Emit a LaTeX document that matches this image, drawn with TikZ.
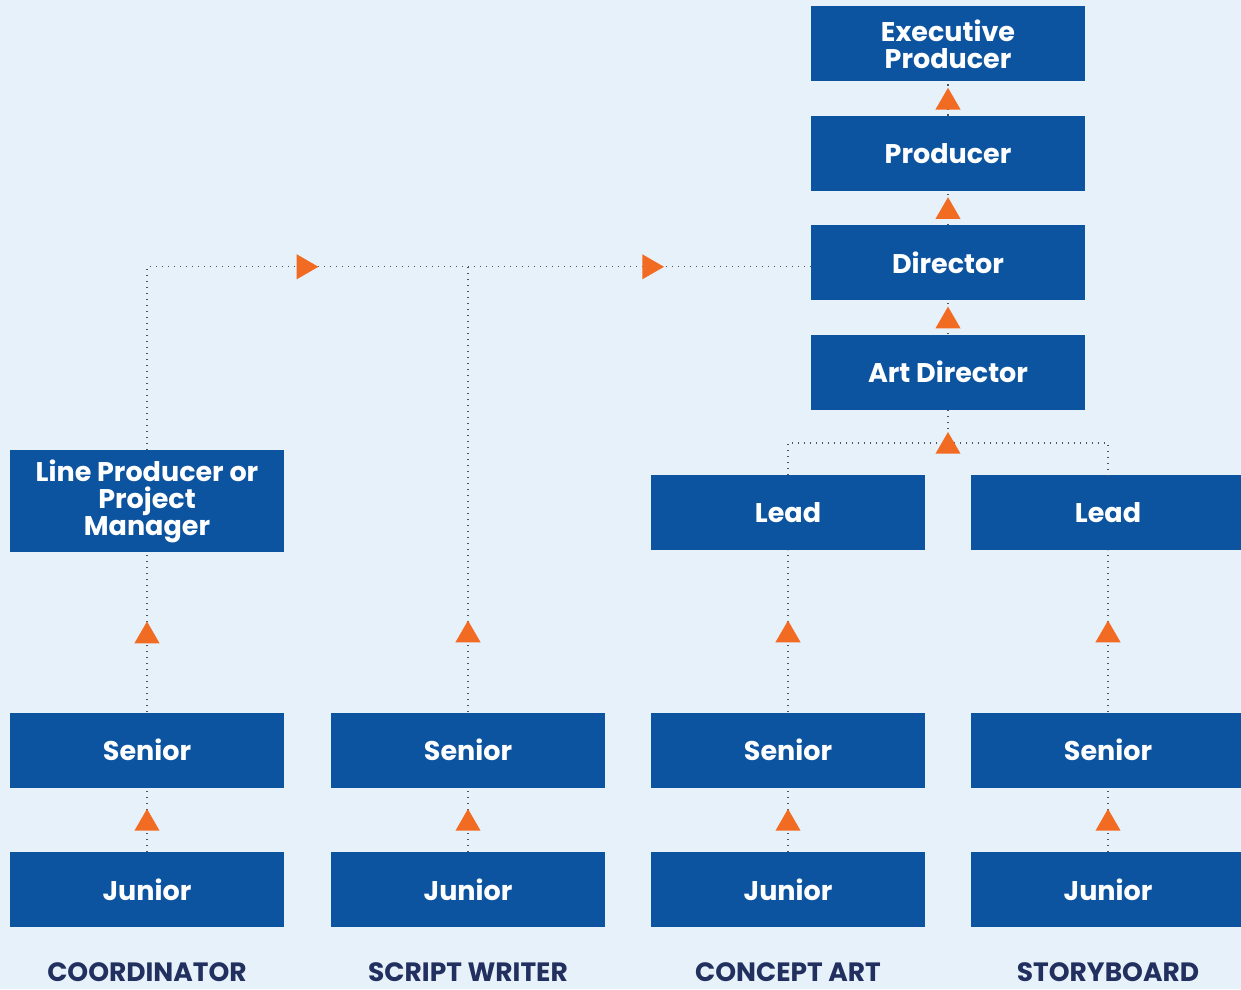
\documentclass[tikz,border=0pt]{standalone}
\usepackage{fontspec}
\setmainfont{Poppins}
\usetikzlibrary{shapes,arrows,positioning,calc}
\definecolor{bgblue}{HTML}{E7F1FA}
\definecolor{boxblue}{HTML}{0D54A0}
\definecolor{navy}{HTML}{22305F}
\definecolor{tipor}{HTML}{F26B22}
\definecolor{dotgray}{HTML}{50555C}
\tikzset{
block/.style = {fill=boxblue, rectangle, minimum height=75pt, minimum width=274pt, text=white, align=center, inner sep=2pt, font=\fontsize{27}{27}\selectfont\bfseries},
caption/.style = {text=navy, inner sep=0pt, font=\fontsize{26.5}{28}\selectfont\bfseries},
link/.style = {draw=dotgray, line width=1.3pt, dash pattern=on 1.3pt off 4.7pt},
tri/.style = {regular polygon, regular polygon sides=3, fill=tipor, inner sep=0pt, minimum size=29pt},
uptri/.style = {tri, yshift=-3.6pt},
rtri/.style = {tri, regular polygon rotate=-90, xshift=-3.6pt},
tmp/.style = {coordinate}
}
\begin{document}
\begin{tikzpicture}[x=1pt, y=1pt, node distance=34pt]
		\fill [bgblue] (0,0) rectangle (1241,989);
		\useasboundingbox (0,0) rectangle (1241,989);

		% main chain
		\node [block] (exec) at (948,945) {Executive\\Producer};
		\node [block, below=of exec] (prod) {Producer};
		\node [block, below=of prod] (dir) {Director};
		\node [block, below=of dir] (artdir) {Art Director};

		% juniors and seniors
		\node [block] (cojun) at (147,99.5) {Junior};
		\node [block] (swjun) at (468,99.5) {Junior};
		\node [block] (cajun) at (788,99.5) {Junior};
		\node [block] (sbjun) at (1108,99.5) {Junior};
		\node [block, above=64pt of cojun] (cosen) {Senior};
		\node [block, above=64pt of swjun] (swsen) {Senior};
		\node [block, above=64pt of cajun] (casen) {Senior};
		\node [block, above=64pt of sbjun] (sbsen) {Senior};

		\node [block, minimum height=102pt, above=160pt of cosen] (lineprod) {Line Producer or\\Project\\Manager};
		\node [block, above=162pt of casen] (calead) {Lead};
		\node [block, above=162pt of sbsen] (sblead) {Lead};

		% column names
		\node [caption, below=35pt of cojun] (coname) {COORDINATOR};
		\node [caption, below=35pt of swjun] (swname) {SCRIPT WRITER};
		\node [caption, below=35pt of cajun] (caname) {CONCEPT ART};
		\node [caption, below=35pt of sbjun] (sbname) {STORYBOARD};

		% links up the chain
		\draw [link] (prod) -- node [uptri] {} (exec);
		\draw [link] (dir) -- node [uptri] {} (prod);
		\draw [link] (artdir) -- node [uptri] {} (dir);

		\draw [link] (cojun) -- node [uptri] {} (cosen);
		\draw [link] (swjun) -- node [uptri] {} (swsen);
		\draw [link] (cajun) -- node [uptri] {} (casen);
		\draw [link] (sbjun) -- node [uptri] {} (sbsen);

		\draw [link] (cosen) -- node [uptri] {} (lineprod);
		\draw [link] (casen) -- node [uptri] {} (calead);
		\draw [link] (sbsen) -- node [uptri] {} (sblead);

		% leads to art director
		\coordinate [below=33pt of artdir.south] (split);
		\draw [link] (artdir) -- (split);
		\draw [link] (calead.north) |- (split) -| (sblead.north);
		\node [uptri] at (split) {};

		% line producer and script writer to director
		\coordinate (dirin) at ([yshift=-4pt]dir.west);
		\coordinate (corner) at (lineprod.north |- dirin);
		\coordinate (branch) at (swsen.north |- dirin);
		\draw [link] (lineprod.north) |- (dirin);
		\draw [link] (swsen.north) -- (branch);
		\node [uptri] at ($(swsen.north)+(0,81)$) {};
		\node [rtri] at ($(corner)!0.5!(branch)$) {};
		\node [rtri] at ($(branch)!0.54!(dirin)$) {};
    \end{tikzpicture}
\end{document}
